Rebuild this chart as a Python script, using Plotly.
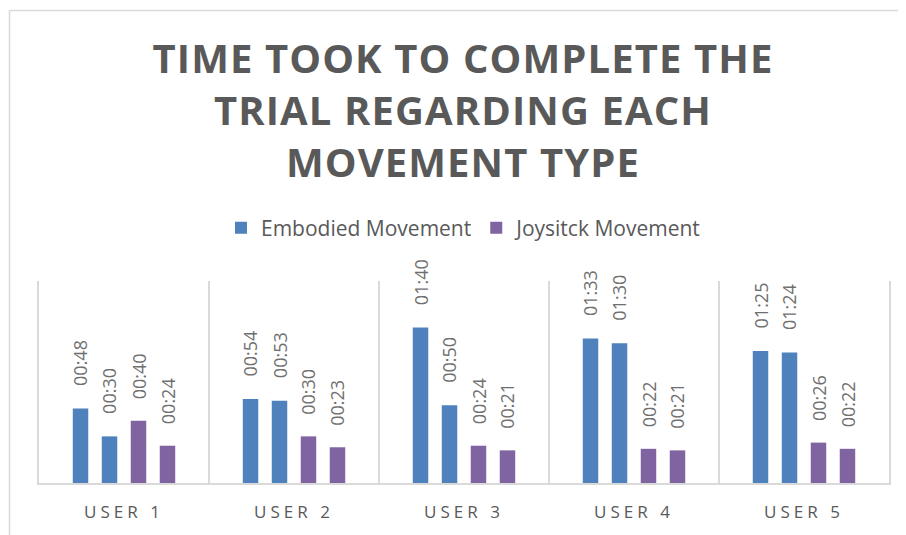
import plotly.graph_objects as go

categories = ["USER 1", "USER 2", "USER 3", "USER 4", "USER 5"]
# seconds
embodied_trial1 = [48, 54, 100, 93, 85]
embodied_trial2 = [30, 53, 50, 90, 84]
joystick_trial1 = [40, 30, 24, 22, 26]
joystick_trial2 = [24, 23, 21, 21, 22]
series_names = ["Embodied Movement", "Embodied Movement", "Joysitck Movement", "Joysitck Movement"]
title_text = "TIME TOOK TO COMPLETE THE<br>TRIAL REGARDING EACH<br>MOVEMENT TYPE"

BLUE = "#4f81bd"
PURPLE = "#8064a2"
TXT = "#595959"
FONT = "Open Sans"

# page has an 8px body margin; figure sized to fit the 906x535 window
OFF = 8
W, H = 906 - OFF, 535 - OFF
ML, MR, MT, MB = 39 - OFF, 17, 281 - OFF, 52
PW, PH = W - ML - MR, H - MT - MB
BARGAP = 0.318
BARGROUPGAP = 0.466


def mmss(s):
    return f"{s // 60:02d}:{s % 60:02d}"


series = [embodied_trial1, embodied_trial2, joystick_trial1, joystick_trial2]
colors = [BLUE, BLUE, PURPLE, PURPLE]
showleg = [True, False, True, False]

fig = go.Figure()
for k, vals in enumerate(series):
    fig.add_trace(go.Bar(
        x=categories, y=vals, name=series_names[k],
        marker=dict(color=colors[k], line=dict(width=0)),
        legendgroup=series_names[k], showlegend=showleg[k],
        hoverinfo="skip",
    ))

n = len(series)
slot = (1 - BARGAP) / n
annotations = []
for k, vals in enumerate(series):
    for i, v in enumerate(vals):
        annotations.append(dict(
            x=i + (k - (n - 1) / 2) * slot, y=v, xref="x", yref="y",
            text=mmss(v), textangle=-90, showarrow=False,
            yanchor="bottom", xanchor="center", yshift=20,
            font=dict(family=FONT, size=18, color="#6f6f6f"),
        ))


def px_to_paper_x(px):
    return (px - ML) / PW


def px_to_paper_y(py):
    return (H - MB - py) / PH


# chart border (top & left edge visible)
shapes = [
    dict(type="line", xref="paper", yref="paper",
         x0=px_to_paper_x(10 - OFF), x1=px_to_paper_x(W + 5),
         y0=px_to_paper_y(10.5 - OFF), y1=px_to_paper_y(10.5 - OFF),
         line=dict(color="#d9d9d9", width=1.5)),
    dict(type="line", xref="paper", yref="paper",
         x0=px_to_paper_x(9.5 - OFF), x1=px_to_paper_x(9.5 - OFF),
         y0=px_to_paper_y(10 - OFF), y1=px_to_paper_y(H + 5),
         line=dict(color="#d9d9d9", width=1.5)),
]

fig.update_layout(
    width=W, height=H,
    margin=dict(l=ML, r=MR, t=MT, b=MB, pad=0),
    paper_bgcolor="white", plot_bgcolor="white",
    barmode="group", bargap=BARGAP, bargroupgap=BARGROUPGAP,
    title=dict(
        text=title_text, x=(463 - OFF) / W, xanchor="center",
        y=1 - (73 - OFF) / H, yanchor="middle", xref="container", yref="container",
        font=dict(family=FONT, size=40, color=TXT, weight="bold"),
    ),
    legend=dict(
        orientation="h", x=0.5, xanchor="center",
        y=px_to_paper_y(228 - OFF), yanchor="middle",
        font=dict(family=FONT, size=21, color=TXT),
        itemclick=False, itemdoubleclick=False,
    ),
    xaxis=dict(
        type="category", tickson="boundaries", ticks="",
        showgrid=True, gridcolor="#d9d9d9", gridwidth=1.5,
        showline=True, linecolor="#d9d9d9", linewidth=1.5,
        tickfont=dict(family=FONT, size=17, color=TXT),
        ticklabelstandoff=13,
    ),
    yaxis=dict(
        range=[0, 130], showgrid=False, zeroline=False,
        showticklabels=False, ticks="",
        showline=True, linecolor="#d9d9d9", linewidth=1.5, mirror=True,
    ),
    annotations=annotations,
    shapes=shapes,
)

post = """
(function(){
  function sp(){
    document.querySelectorAll('.gtitle').forEach(function(e){e.style.letterSpacing='1.1px';});
    document.querySelectorAll('.xtick text').forEach(function(e){e.style.letterSpacing='4px';});
  }
  sp();
  setTimeout(sp, 50);
})();
"""

fig.write_html("out.html", post_script=post)
